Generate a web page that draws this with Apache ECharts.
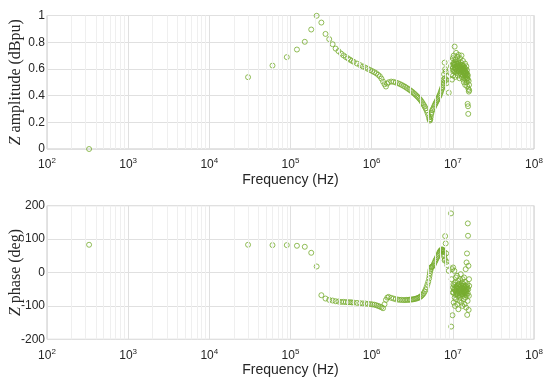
<!DOCTYPE html>
<html><head><meta charset="utf-8">
<script src="https://cdn.jsdelivr.net/npm/echarts@6/dist/echarts.min.js"></script>
<style>html,body{margin:0;padding:0;background:#fff}#c{width:550px;height:385px}</style>
</head><body><div id="c"></div>
<script>
// Frequencies in kHz
const freqKHz = [
 0.33, 30, 60, 90, 120, 150, 180, 210, 240, 270, 300, 330, 360, 390, 420, 450, 480, 510, 540, 570, 600,
 660, 720, 780, 840, 900, 960, 1020, 1080, 1140, 1200, 1260, 1320, 1380, 1440, 1500, 1560,
 1620, 1740, 1860, 1980, 2100, 2220, 2340, 2460, 2580, 2700, 2820, 2940, 3060, 3180, 3300, 3420, 3540, 3660, 3780, 3900,
 4020, 4140, 4260, 4380, 4500, 4620, 4740, 4860, 4980, 5100, 5160, 5220, 5280, 5340, 5400,
 5460, 5580, 5700, 5820, 5940, 6060, 6180, 6300, 6420, 6540, 6660, 6780, 6900, 7020, 7140, 7260, 7380, 7500, 7620, 7740, 7860, 7980,
 7680, 7800, 7920, 8040, 8160, 8280, 8400, 8550, 8910,
 9480, 9540, 9660, 9780, 9900, 9990, 10080, 10170, 10260, 10350, 10440, 10530, 10620, 10710, 10800, 10890, 10980, 11070, 11160, 11250,
 11340, 11430, 11520, 11610, 11700, 11790, 11880, 11970, 12060, 12150, 12240, 12330, 12420, 12510, 12600, 12690, 12780, 12870, 12960, 13050,
 13140, 13230, 13320, 13410, 13500, 13590, 13680, 13770, 13860, 13950, 14040, 14130, 14220, 14310, 14400, 14490, 14580, 14670, 14760, 14850,
 14940, 15030, 15120, 15210, 15300, 15390, 15480, 15570, 15660, 15750, 15840, 15900,
 10050, 10230, 10410, 10590, 10770, 10950, 11130, 11310, 11490, 11670, 11850, 12030, 12210, 12390, 12570, 12750, 12930, 13110, 13290, 13470,
 13650, 13830, 14010, 14190, 14370, 14550, 14730, 14910, 15090, 15270
];
// Z amplitude (dBpu)
const amplitude = [
 0.0, 0.538, 0.625, 0.688, 0.745, 0.803, 0.895, 0.998, 0.947, 0.862, 0.823, 0.785, 0.752, 0.733, 0.715, 0.701, 0.689, 0.679, 0.669, 0.661, 0.653,
 0.640, 0.628, 0.618, 0.609, 0.600, 0.591, 0.583, 0.575, 0.567, 0.556, 0.545, 0.527, 0.505, 0.485, 0.468, 0.490,
 0.500, 0.505, 0.503, 0.498, 0.493, 0.487, 0.480, 0.473, 0.466, 0.458, 0.450, 0.443, 0.435, 0.427, 0.418, 0.410, 0.401, 0.393, 0.384, 0.375,
 0.365, 0.354, 0.342, 0.330, 0.318, 0.305, 0.290, 0.272, 0.255, 0.236, 0.222, 0.213, 0.222, 0.240, 0.260,
 0.272, 0.290, 0.300, 0.312, 0.325, 0.336, 0.346, 0.356, 0.366, 0.375, 0.385, 0.395, 0.405, 0.418, 0.430, 0.443, 0.455, 0.465, 0.478, 0.492, 0.510, 0.530,
 0.520, 0.560, 0.647, 0.598, 0.580, 0.518, 0.493, 0.545, 0.422,
 0.62, 0.56, 0.66, 0.52, 0.60, 0.68, 0.55, 0.63, 0.70, 0.58, 0.65, 0.767, 0.61, 0.54, 0.67, 0.60, 0.72, 0.57, 0.64, 0.59,
 0.69, 0.62, 0.55, 0.66, 0.60, 0.705, 0.58, 0.64, 0.53, 0.62, 0.68, 0.57, 0.61, 0.65, 0.56, 0.60, 0.70, 0.54, 0.59, 0.63,
 0.55, 0.60, 0.66, 0.52, 0.58, 0.62, 0.50, 0.57, 0.61, 0.53, 0.58, 0.64, 0.48, 0.56, 0.60, 0.52, 0.57, 0.62, 0.50, 0.55,
 0.59, 0.47, 0.53, 0.338, 0.55, 0.32, 0.263, 0.45, 0.51, 0.43, 0.48, 0.44,
 0.61, 0.64, 0.59, 0.63, 0.60, 0.65, 0.62, 0.58, 0.64, 0.61, 0.63, 0.59, 0.62, 0.60, 0.63, 0.58, 0.61, 0.59, 0.62, 0.57,
 0.60, 0.56, 0.59, 0.55, 0.58, 0.54, 0.57, 0.53, 0.56, 0.52
];
// Z phase (deg)
const phase = [
 83, 83, 82, 82, 80, 77, 59, 18, -68, -78, -82, -84, -86, -87, -88, -88, -88.5, -89, -89, -89.5, -90,
 -91, -92, -92.5, -93, -94, -94.5, -95.5, -96.5, -98, -100, -102, -104, -107, -95, -82, -75,
 -73, -76, -78, -80, -81, -82, -82, -82.5, -82.5, -82, -82, -81.5, -81, -80.5, -80, -79, -78, -77, -75.5, -74,
 -72, -69, -66, -62, -57, -51, -44, -36, -28, -18, -10, -2, 5, 10, 15,
 16, 18, 20, 24, 29, 34, 38, 42, 46, 50, 54, 58, 62, 65, 67, 68, 69, 68, 66, 62, 52, 40,
 64, 48, 36, 109, 87, 57, 32, 22, 5,
 177, -162, -20, 10, -128, -60, 15, -35, -90, -50, 5, -75, -100, -30, -55, -15, -80, -45, -65, -10,
 -95, -40, -70, -25, -110, -50, -60, -35, -85, -45, -20, -75, -55, -5, -65, -40, -90, -30, -60, -48,
 -100, -20, -70, -50, -35, -80, -58, -15, -45, -95, -62, -28, -52, -75, 10, -40, -105, -55, 30, -68,
 57, -127, -35, -85, 147, 110, -50, 20, -112, -70, -20, -40,
 -45, -60, -38, -52, -66, -42, -58, -48, -62, -36, -54, -44, -68, -50, -38, -58, -46, -64, -40, -56,
 -48, -60, -42, -54, -66, -46, -58, -50, -44, -62
];
const xTickLabels = ['10{s|2}', '10{s|3}', '10{s|4}', '10{s|5}', '10{s|6}', '10{s|7}', '10{s|8}'];

const green = '#77AC30';
const txt = '#262626';
const ampData = freqKHz.map((f, i) => [f * 1000, amplitude[i]]);
const phaseData = freqKHz.map((f, i) => [f * 1000, phase[i]]);

const minorLines = [];
for (let d = 2; d < 8; d++) for (let k = 2; k <= 9; k++) minorLines.push({ xAxis: k * Math.pow(10, d) });

function xAxisCfg(idx) {
  return {
    type: 'log', logBase: 10, min: 100, max: 1e8, gridIndex: idx,
    name: 'Frequency (Hz)', nameLocation: 'middle', nameGap: 24, nameMoveOverlap: false,
    nameTextStyle: { fontFamily: 'Liberation Sans', fontSize: 14, color: txt },
    axisLine: { show: false }, axisTick: { show: false },
    axisLabel: {
      margin: 8, color: txt, fontFamily: 'Liberation Sans', fontSize: 12,
      formatter: v => xTickLabels[Math.round(Math.log10(v)) - 2],
      rich: { s: { fontSize: 8, fontFamily: 'Liberation Sans', color: txt, verticalAlign: 'top', padding: [0, 0, 8, 0] } }
    },
    splitLine: { show: true, lineStyle: { color: '#e0e0e0', width: 1 } }
  };
}
function yAxisCfg(idx, min, max, interval, name) {
  return {
    type: 'value', min, max, interval, gridIndex: idx,
    name, nameLocation: 'middle', nameGap: 23, nameMoveOverlap: false,
    nameTextStyle: { fontFamily: 'Liberation Serif', fontSize: 16, color: txt,
      rich: { i: { fontFamily: 'Liberation Serif', fontStyle: 'italic', fontSize: 16, color: txt } } },
    axisLine: { show: false }, axisTick: { show: false },
    axisLabel: { margin: 2, color: txt, fontFamily: 'Liberation Sans', fontSize: 12 },
    splitLine: { show: true, lineStyle: { color: '#e0e0e0', width: 1 } }
  };
}
function gridLineSeries(idx) {
  return {
    type: 'scatter', xAxisIndex: idx, yAxisIndex: idx, data: [], silent: true, z: 1,
    markLine: { silent: true, symbol: 'none', label: { show: false }, animation: false,
      lineStyle: { color: '#efefef', width: 1, type: 'solid' }, data: minorLines }
  };
}
function dataSeries(idx, data) {
  return {
    type: 'scatter', xAxisIndex: idx, yAxisIndex: idx, data, symbol: 'circle', symbolSize: 5, z: 3,
    itemStyle: { color: 'rgba(0,0,0,0)', borderColor: green, borderWidth: 1 }
  };
}

const chart = echarts.init(document.getElementById('c'), null, { renderer: 'canvas' });
chart.setOption({
  animation: false,
  backgroundColor: '#fff',
  grid: [
    { left: 47, right: 16, top: 15.5, height: 133.5, show: true, borderColor: '#c8c8c8', borderWidth: 1, containLabel: false, outerBoundsMode: 'none' },
    { left: 47, right: 16, top: 205.7, height: 133.6, show: true, borderColor: '#c8c8c8', borderWidth: 1, containLabel: false, outerBoundsMode: 'none' }
  ],
  xAxis: [xAxisCfg(0), xAxisCfg(1)],
  yAxis: [
    yAxisCfg(0, 0, 1, 0.2, '{i|Z} amplitude (dBpu)'),
    yAxisCfg(1, -200, 200, 100, '{i|Z} phase (deg)')
  ],
  series: [gridLineSeries(0), gridLineSeries(1), dataSeries(0, ampData), dataSeries(1, phaseData)]
});
</script></body></html>
